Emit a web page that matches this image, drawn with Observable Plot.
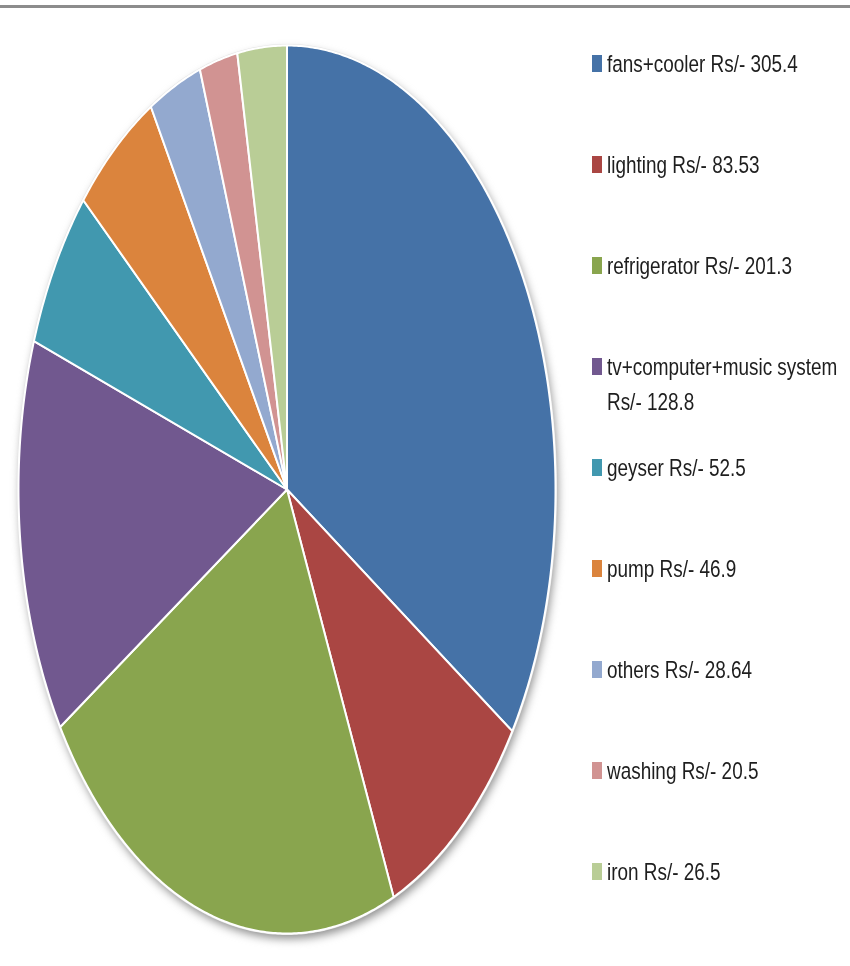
<!DOCTYPE html>
<html>
<head>
<meta charset="utf-8">
<script src="https://cdn.jsdelivr.net/npm/d3@7"></script>
<script src="https://cdn.jsdelivr.net/npm/@observablehq/plot@0.6"></script>
<style>
  html, body { margin: 0; padding: 0; background: #fff; }
  #wrap { position: relative; width: 850px; height: 966px; overflow: hidden; }
  #topline { position: absolute; left: 0; top: 5px; width: 850px; height: 3px; background: #8c8c8c; }
  #chart { position: absolute; left: 0; top: 0; }
  .item { position: absolute; left: 592px; width: 258px; font-family: "Liberation Sans", Arial, sans-serif; font-size: 22px; color: #1e1e1e; line-height: 31px; }
  .sw { position: absolute; left: 0; top: 7px; width: 10px; height: 17px; }
  .tx { position: absolute; left: 15px; top: 0; width: 285px; transform: scale(0.86, 1.12); transform-origin: 0 15.5px; white-space: normal; }
</style>
</head>
<body>
<div id="wrap">
  <div id="topline"></div>
  <div id="chart"></div>
</div>
<script>
const names = ["fans+cooler", "lighting", "refrigerator", "tv+computer+music system", "geyser", "pump", "others", "washing", "iron"];
const values = [305.4, 83.53, 201.3, 128.8, 52.5, 46.9, 28.64, 20.5, 26.5];
const colors = ["#4572A7", "#AA4643", "#89A54E", "#71588F", "#4198AF", "#DB843D", "#93A9CF", "#D19392", "#B9CD96"];

const data = names.map((name, i) => ({name, value: values[i]}));
const arcs = d3.pie().sort(null).value(d => d.value)(data);

// Build slice outlines (unit circle coordinates; the scales stretch them to the ellipse)
const step = Math.PI / 360;
const slicePts = [];
arcs.forEach(a => {
  slicePts.push({name: a.data.name, x: 0, y: 0});
  const n = Math.max(2, Math.ceil((a.endAngle - a.startAngle) / step));
  for (let k = 0; k <= n; k++) {
    const t = a.startAngle + (a.endAngle - a.startAngle) * k / n;
    slicePts.push({name: a.data.name, x: Math.sin(t), y: Math.cos(t)});
  }
});
const outline = d3.range(0, 721).map(k => ({x: Math.sin(k * step), y: Math.cos(k * step)}));

const plot = Plot.plot({
  width: 850,
  height: 966,
  marginLeft: 18,
  marginRight: 295,
  marginTop: 45,
  marginBottom: 33,
  x: {domain: [-1, 1], axis: null},
  y: {domain: [-1, 1], axis: null},
  color: {domain: names, range: colors, legend: false},
  marks: [
    Plot.line(outline, {x: "x", y: "y", curve: "linear-closed", fill: "#8a8a8a", stroke: "none", dx: 2, dy: 5}),
    Plot.line(outline, {x: "x", y: "y", curve: "linear-closed", fill: "none", stroke: "#e6e6e6", strokeWidth: 3}),
    Plot.line(slicePts, {x: "x", y: "y", z: "name", fill: "name", stroke: "#ffffff", strokeWidth: 2, strokeLinejoin: "round", curve: "linear-closed"})
  ]
});
const lines = plot.querySelectorAll('g[aria-label="line"]');
if (lines.length) lines[0].style.filter = "blur(5px)";
document.getElementById("chart").appendChild(plot);

// Legend (HTML, right of the plot)
const wrap = document.getElementById("wrap");
names.forEach((name, i) => {
  const item = document.createElement("div");
  item.className = "item";
  item.style.top = (63 + i * 101 - 15.5) + "px";
  const sw = document.createElement("div");
  sw.className = "sw";
  sw.style.background = colors[i];
  const tx = document.createElement("div");
  tx.className = "tx";
  tx.textContent = `${name} Rs/- ${values[i]}`;
  item.appendChild(sw);
  item.appendChild(tx);
  wrap.appendChild(item);
});
</script>
</body>
</html>
